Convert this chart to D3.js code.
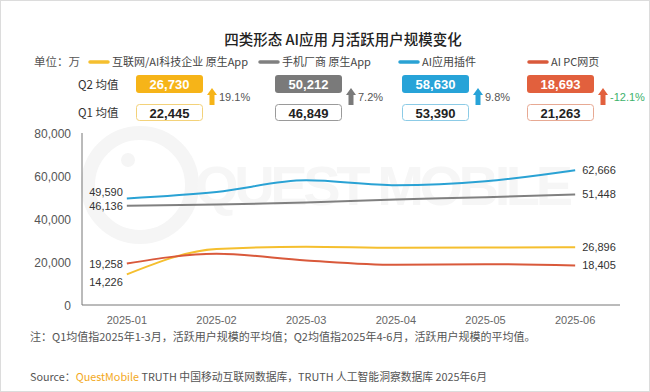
<!DOCTYPE html>
<html><head><meta charset="utf-8">
<script src="https://cdn.jsdelivr.net/npm/d3@7"></script>
<style>
html,body{margin:0;padding:0;background:#fff;}
svg{display:block;}
text{font-family:"Noto Sans CJK SC","Liberation Sans",sans-serif;}
.num{font-family:"Liberation Sans",Arial,sans-serif;}
</style></head>
<body>
<svg id="c" width="650" height="392"></svg>
<script>
// ---- data ----
const months = ["2025-01","2025-02","2025-03","2025-04","2025-05","2025-06"];
const seriesNames = ["互联网/AI科技企业 原生App","手机厂商 原生App","AI应用插件","AI PC网页"];
const internetApp = [14226, 26000, 27109, 26600, 26694, 26896];
const phoneApp   = [46136, 46700, 47711, 49100, 50088, 51448];
const aiPlugin   = [49590, 52600, 57980, 55700, 57524, 62666];
const aiPcWeb    = [19258, 23800, 20731, 18700, 18974, 18405];
const q1Avg = [22445, 46849, 53390, 21263];
const q2Avg = [26730, 50212, 58630, 18693];
const changePct = ["19.1%", "7.2%", "9.8%", "-12.1%"];
const yTicks = [0, 20000, 40000, 60000, 80000];
const titleText = "四类形态 AI应用 月活跃用户规模变化";
const unitText = "单位：万";
const noteText = "注：Q1均值指2025年1-3月，活跃用户规模的平均值；Q2均值指2025年4-6月，活跃用户规模的平均值。";

// ---- styles / layout ----
const colors = ["#F6B418", "#7A7A7A", "#27A3D8", "#E2603D"];
const lineColors = ["#F5BF2F", "#808080", "#2AA2D4", "#D9593B"];
const q1Border = ["#F3D27A", "#9A9A9A", "#8CCBE6", "#E7A993"];
const allSeries = [internetApp, phoneApp, aiPlugin, aiPcWeb];
const leftLabelDy = [8, 0, -6, 0];   // internet, phone, plugin, pc

const svg = d3.select("#c");
const fmt = d3.format(",");

svg.append("rect").attr("x",0.5).attr("y",0.5).attr("width",649).attr("height",391)
  .attr("fill","#fff").attr("stroke","#dcdcdc");

const x = d3.scaleBand().domain(months).range([82, 620]);
const y = d3.scaleLinear().domain([0, 80000]).range([305, 133]);
const cx = d => x(d) + x.bandwidth()/2;

// watermark
svg.append("circle").attr("cx",140).attr("cy",185).attr("r",52)
  .attr("fill","none").attr("stroke","#f5f5f5").attr("stroke-width",14);
svg.append("circle").attr("cx",128).attr("cy",160).attr("r",7).attr("fill","#f5f5f5");
svg.append("text").attr("x",195).attr("y",205).attr("font-size",56).attr("font-weight","bold")
  .attr("class","num").attr("fill","#f6f6f6").attr("textLength",378).text("QUEST MOBILE");

// title
svg.append("text").attr("x",343).attr("y",45).attr("text-anchor","middle")
  .attr("font-size",14.5).attr("font-weight",500).attr("fill","#222").text(titleText);

// unit + legend
svg.append("text").attr("x",34).attr("y",66).attr("font-size",11.5).attr("fill","#555").text(unitText);
const legX = [90, 260, 400, 529];
seriesNames.forEach((n,i)=>{
  svg.append("line").attr("x1",legX[i]).attr("x2",legX[i]+18).attr("y1",62).attr("y2",62)
    .attr("stroke",lineColors[i]).attr("stroke-width",3.5).attr("stroke-linecap","round");
  svg.append("text").attr("x",legX[i]+22).attr("y",66).attr("font-size",11).attr("fill","#444").text(n);
});

// Q labels
svg.append("text").attr("x",78).attr("y",89).attr("font-size",11.5).attr("fill","#333").text("Q2 均值");
svg.append("text").attr("x",78).attr("y",117).attr("font-size",11.5).attr("fill","#333").text("Q1 均值");

const boxX = [136, 275, 402, 527], boxW = 67;
q2Avg.forEach((v,i)=>{
  svg.append("rect").attr("x",boxX[i]).attr("y",75).attr("width",boxW).attr("height",18)
    .attr("rx",3).attr("fill",colors[i]);
  svg.append("text").attr("class","num").attr("x",boxX[i]+boxW/2).attr("y",88.5)
    .attr("text-anchor","middle").attr("font-size",13).attr("font-weight","bold")
    .attr("fill","#fff").text(fmt(v));
  svg.append("rect").attr("x",boxX[i]+0.5).attr("y",104.5).attr("width",boxW-1).attr("height",16)
    .attr("rx",3).attr("fill","#fff").attr("stroke",q1Border[i]);
  svg.append("text").attr("class","num").attr("x",boxX[i]+boxW/2).attr("y",117.5)
    .attr("text-anchor","middle").attr("font-size",13).attr("font-weight","bold")
    .attr("fill","#222").text(fmt(q1Avg[i]));
  // up arrow
  const ax = boxX[i]+boxW+4, aw = 10, top = 88, bot = 105;
  svg.append("path").attr("fill",colors[i])
    .attr("d",`M${ax+aw/2},${top} L${ax+aw},${top+7} L${ax+aw/2+2.5},${top+7} L${ax+aw/2+2.5},${bot} L${ax+aw/2-2.5},${bot} L${ax+aw/2-2.5},${top+7} L${ax},${top+7} Z`);
  svg.append("text").attr("class","num").attr("x",ax+aw+2).attr("y",101)
    .attr("font-size",11).attr("fill", changePct[i].startsWith("-") ? "#3DB26B" : "#555")
    .text(changePct[i]);
});

// axes
svg.append("line").attr("x1",82).attr("x2",82).attr("y1",133).attr("y2",305).attr("stroke","#777");
svg.append("line").attr("x1",82).attr("x2",620).attr("y1",305).attr("y2",305).attr("stroke","#777");
svg.selectAll(".yt").data(yTicks).enter().append("text").attr("class","num")
  .attr("x",71).attr("y",d=>y(d)+4.5).attr("text-anchor","end").attr("font-size",12)
  .attr("fill","#555").text(d=>fmt(d));
svg.selectAll(".xt").data(months).enter().append("text").attr("class","num")
  .attr("x",d=>cx(d)).attr("y",324).attr("text-anchor","middle").attr("font-size",11)
  .attr("fill","#666").text(d=>d);

// lines
const line = d3.line().x((d,i)=>cx(months[i])).y(d=>y(d)).curve(d3.curveMonotoneX);
allSeries.forEach((s,i)=>{
  svg.append("path").datum(s).attr("fill","none").attr("stroke",lineColors[i])
    .attr("stroke-width",2).attr("d",line);
  svg.append("text").attr("class","num").attr("x",cx(months[0])-4)
    .attr("y",y(s[0])+4+leftLabelDy[i]).attr("text-anchor","end")
    .attr("font-size",11).attr("fill","#333").text(fmt(s[0]));
  svg.append("text").attr("class","num").attr("x",cx(months[5])+7)
    .attr("y",y(s[5])+4).attr("font-size",11).attr("fill","#333").text(fmt(s[5]));
});

// notes
svg.append("text").attr("x",30).attr("y",341).attr("font-size",11).attr("fill","#555").text(noteText);
const src = svg.append("text").attr("x",30).attr("y",381).attr("font-size",10.8).attr("fill","#555");
src.append("tspan").text("Source：");
src.append("tspan").attr("fill","#F3A91C").text("QuestMobile");
src.append("tspan").text(" TRUTH 中国移动互联网数据库，TRUTH 人工智能洞察数据库 2025年6月");
</script>
</body></html>
